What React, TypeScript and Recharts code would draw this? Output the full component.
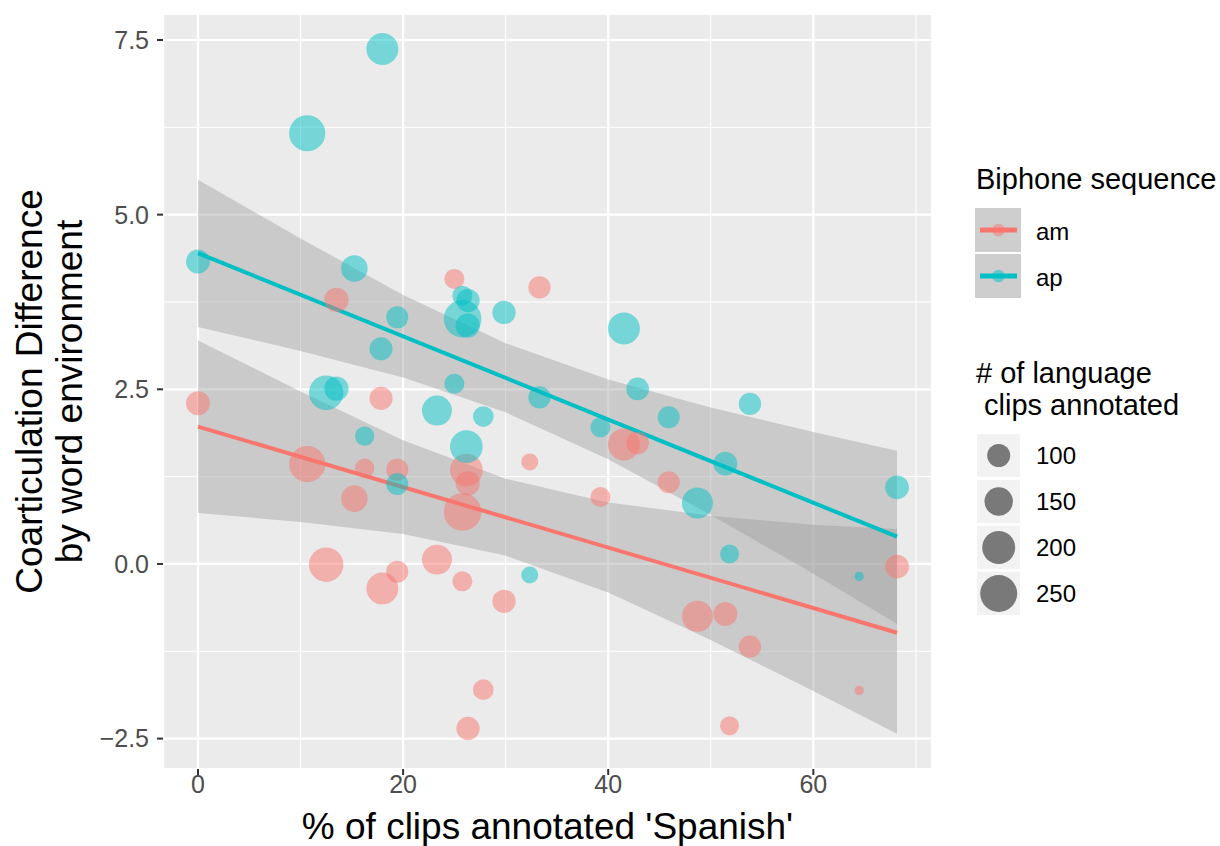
import React from "react";
import {
    ComposedChart,
    XAxis,
    YAxis,
    ZAxis,
    CartesianGrid,
    Area,
    Line,
    Scatter,
} from "recharts";

// one entry per speaker: % of clips annotated Spanish, clip count, and the two biphone differences
const pctSpanish = [0, 10.65, 12.5, 13.5, 15.25, 16.25, 17.85, 17.98, 19.43, 19.43, 23.3, 25.0, 25.78, 25.8, 26.17, 26.3, 26.33, 27.82, 29.84, 32.35, 33.3, 39.24, 41.53, 42.87, 45.9, 48.7, 51.42, 51.83, 53.82, 64.47, 68.16];
const nClips = [108, 239, 218, 111, 131, 72, 100, 187, 92, 92, 166, 77, 77, 258, 196, 110, 102, 82, 102, 57, 94, 77, 188, 97, 92, 177, 108, 70, 94, 21, 106];
const amDiff = [2.3, 1.43, -0.01, 3.78, 0.935, 1.37, 2.37, -0.35, 1.35, -0.11, 0.062, 4.08, -0.249, 0.744, 1.345, 1.154, -2.354, -1.8, -0.535, 1.46, 3.96, 0.959, 1.71, 1.73, 1.17, -0.75, -0.716, -2.315, -1.184, -1.81, -0.039];
const apDiff = [4.33, 6.165, 2.45, 2.51, 4.23, 1.83, 3.08, 7.37, 3.53, 1.145, 2.195, 2.58, 3.84, 3.51, 1.68, 3.41, 3.77, 2.11, 3.6, -0.157, 2.385, 1.956, 3.37, 2.505, 2.1, 0.873, 1.436, 0.143, 2.29, -0.18, 1.097];

// lm fit + 95% band
const bandX = [0, 10, 20, 30, 40, 50, 60, 68.16];
const amLower = [0.73, 0.6, 0.43, 0.12, -0.41, -1.09, -1.82, -2.43];
const amUpper = [3.2, 2.47, 1.77, 1.22, 0.88, 0.69, 0.56, 0.5];
const apLower = [3.39, 3.05, 2.67, 2.17, 1.5, 0.7, -0.14, -0.86];
const apUpper = [5.5, 4.66, 3.85, 3.16, 2.64, 2.24, 1.89, 1.62];
const fitX = [0, 68.16];
const amFit = [1.966, -0.985];
const apFit = [4.45, 0.39];

const xTicks = [0, 20, 40, 60];
const xMinor = [10, 30, 50, 70];
const yTicks = [-2.5, 0, 2.5, 5, 7.5];
const yMinor = [-1.25, 1.25, 3.75, 6.25];
const sizeBreaks = [100, 150, 200, 250];

const AM = "#F8766D";
const AP = "#00BFC4";
const FONT = "'Liberation Sans', Arial, Helvetica, sans-serif";

const xDomain = [-3.41, 71.57];
const yDomain = [-2.935, 7.872];
const zDomain = [20, 300];
const zRange = [64.4, 1295.9];

const amPoints = pctSpanish.map((x, i) => ({ x, y: amDiff[i], n: nClips[i] }));
const apPoints = pctSpanish.map((x, i) => ({ x, y: apDiff[i], n: nClips[i] }));

const bandRows = bandX.map((x, i) => {
    const f = fitX.indexOf(x);
    return {
        x,
        amBand: [amLower[i], amUpper[i]],
        apBand: [apLower[i], apUpper[i]],
        amFit: f >= 0 ? amFit[f] : null,
        apFit: f >= 0 ? apFit[f] : null,
    };
});

const fmtY = (v: number) => v.toFixed(1).replace("-", "\u2212");

// same area mapping as the ZAxis, for the size legend
const legendRadius = (n: number) => {
    const area = zRange[0] + ((n - zDomain[0]) / (zDomain[1] - zDomain[0])) * (zRange[1] - zRange[0]);
    return Math.sqrt(area / Math.PI);
};

const YTitle = () => (
    <g fontFamily={FONT} fontSize={37} fill="#000">
        <text transform="translate(42,391.5) rotate(-90)" textAnchor="middle">
            Coarticulation Difference
        </text>
        <text transform="translate(82,391.5) rotate(-90)" textAnchor="middle">
            by word environment
        </text>
    </g>
);

const XTitle = () => (
    <text x={547.5} y={839} textAnchor="middle" fontFamily={FONT} fontSize={37} fill="#000">
        % of clips annotated 'Spanish'
    </text>
);

const Legends = () => {
    const groups = [
        { label: "am", color: AM, top: 208 },
        { label: "ap", color: AP, top: 254 },
    ];
    return (
        <svg
            width={1220}
            height={846}
            style={{ position: "absolute", left: 0, top: 0, pointerEvents: "none" }}
            fontFamily={FONT}
        >
            <text x={976} y={189} fontSize={29} fill="#000">Biphone sequence</text>
            {groups.map((g) => (
                <g key={g.label}>
                    <rect x={975} y={g.top} width={46} height={44} fill="#CECECE" />
                    <line x1={980} x2={1017} y1={g.top + 22} y2={g.top + 22} stroke={g.color} strokeWidth={5} />
                    <circle cx={998.5} cy={g.top + 22} r={6.3} fill={g.color} fillOpacity={0.5} />
                    <text x={1036} y={g.top + 31.5} fontSize={24} fill="#000">{g.label}</text>
                </g>
            ))}
            <text x={976} y={383} fontSize={29} fill="#000"># of language</text>
            <text x={984} y={415} fontSize={29} fill="#000">clips annotated</text>
            {sizeBreaks.map((n, i) => {
                const top = 434 + i * 46;
                return (
                    <g key={n}>
                        <rect x={977} y={top} width={43} height={43} fill="#F2F2F2" />
                        <circle cx={998.7} cy={top + 21.5} r={legendRadius(n)} fill="#000" fillOpacity={0.5} />
                        <text x={1036} y={top + 30} fontSize={24} fill="#000">{n}</text>
                    </g>
                );
            })}
        </svg>
    );
};

const App = () => {
    const tickStyle = { fill: "#4D4D4D", fontSize: 25, fontFamily: FONT };
    return (
        <div style={{ position: "absolute", left: 0, top: 0, width: 1220, height: 846, background: "#fff" }}>
            <ComposedChart
                width={1220}
                height={846}
                data={bandRows}
                margin={{ top: 14, right: 288, bottom: 0, left: 0 }}
            >
                <XAxis xAxisId="minor" type="number" dataKey="x" domain={xDomain} ticks={xMinor} allowDataOverflow hide />
                <YAxis yAxisId="minor" type="number" domain={yDomain} ticks={yMinor} allowDataOverflow hide />
                <CartesianGrid xAxisId="minor" yAxisId="minor" stroke="#FFFFFF" strokeWidth={1} fill="#EBEBEB" />
                <CartesianGrid stroke="#FFFFFF" strokeWidth={2.2} />
                <XAxis
                    type="number"
                    dataKey="x"
                    domain={xDomain}
                    ticks={xTicks}
                    allowDataOverflow
                    axisLine={false}
                    tickLine={{ stroke: "#333333", strokeWidth: 2 }}
                    tickSize={6}
                    tickMargin={0}
                    tick={tickStyle}
                    height={77}
                    label={<XTitle />}
                />
                <YAxis
                    type="number"
                    domain={yDomain}
                    ticks={yTicks}
                    allowDataOverflow
                    axisLine={false}
                    tickLine={{ stroke: "#333333", strokeWidth: 2 }}
                    tickSize={6}
                    tickMargin={8}
                    tick={tickStyle}
                    tickFormatter={fmtY}
                    width={163}
                    label={<YTitle />}
                />
                <ZAxis zAxisId="size" type="number" dataKey="n" domain={zDomain} range={zRange} />
                <Area type="linear" dataKey="amBand" stroke="none" fill="#999999" fillOpacity={0.4} isAnimationActive={false} />
                <Area type="linear" dataKey="apBand" stroke="none" fill="#999999" fillOpacity={0.4} isAnimationActive={false} />
                <Line type="linear" dataKey="amFit" stroke={AM} strokeWidth={4} dot={false} connectNulls isAnimationActive={false} />
                <Line type="linear" dataKey="apFit" stroke={AP} strokeWidth={4} dot={false} connectNulls isAnimationActive={false} />
                <Scatter data={amPoints} dataKey="y" zAxisId="size" fill={AM} fillOpacity={0.5} isAnimationActive={false} />
                <Scatter data={apPoints} dataKey="y" zAxisId="size" fill={AP} fillOpacity={0.5} isAnimationActive={false} />
            </ComposedChart>
            <Legends />
        </div>
    );
};

export default App;
